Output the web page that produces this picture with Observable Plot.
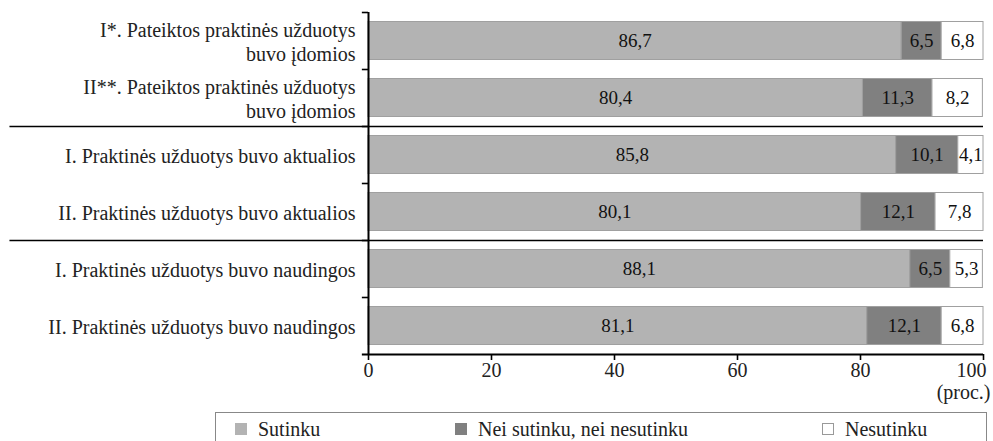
<!DOCTYPE html>
<html>
<head>
<meta charset="utf-8">
<script src="https://cdn.jsdelivr.net/npm/d3@7"></script>
<script src="https://cdn.jsdelivr.net/npm/@observablehq/plot@0.6"></script>
<style>
  body { margin: 0; background: #fff; font-family: "Liberation Serif", serif; }
  #legend { position: relative; margin-left: 215px; width: 772px; height: 40px; border: 1px solid #888; border-bottom: none; box-sizing: border-box; margin-top: 7px; font-size: 20px; color: #222; }
  .item { position: absolute; top: 5px; display: flex; align-items: center; line-height: 22px; }
  .sw { width: 12px; height: 12px; margin-right: 11px; box-sizing: border-box; }
</style>
</head>
<body>
<div id="chart"></div>
<div id="legend"></div>
<script>
const categories = [
  "I*. Pateiktos praktinės užduotys\nbuvo įdomios",
  "II**. Pateiktos praktinės užduotys\nbuvo įdomios",
  "I. Praktinės užduotys buvo aktualios",
  "II. Praktinės užduotys buvo aktualios",
  "I. Praktinės užduotys buvo naudingos",
  "II. Praktinės užduotys buvo naudingos"
];
const seriesNames = ["Sutinku", "Nei sutinku, nei nesutinku", "Nesutinku"];
const agree = [86.7, 80.4, 85.8, 80.1, 88.1, 81.1];
const neutral = [6.5, 11.3, 10.1, 12.1, 6.5, 12.1];
const disagree = [6.8, 8.2, 4.1, 7.8, 5.3, 6.8];
const xTicks = [0, 20, 40, 60, 80, 100];
const xUnit = "(proc.)";
const separatorsBefore = [categories[2], categories[4]];
const colors = ["#b3b3b3", "#808080", "#ffffff"];

const values = [agree, neutral, disagree];
const data = [];
categories.forEach((c, i) => {
  seriesNames.forEach((s, j) => data.push({cat: c, series: s, value: values[j][i]}));
});
const fmt = v => d3.format(".1f")(v).replace(".", ",");

const W = 993, H = 405, mT = 12, mB = 51, mL = 368, mR = 10;
const step = (H - mT - mB) / categories.length;
const halfStep = step / 2;
const lastCat = categories[categories.length - 1];
const atBottom = () => lastCat;

const plot = Plot.plot({
  width: W,
  height: H,
  marginTop: mT,
  marginBottom: mB,
  marginLeft: mL,
  marginRight: mR,
  style: {fontFamily: "Liberation Serif, serif", fontSize: "20px", color: "#222", background: "#fff", overflow: "visible"},
  x: {domain: [0, 100], axis: null},
  y: {domain: categories, padding: 0},
  color: {domain: seriesNames, range: colors},
  marks: [
    Plot.barX(data, Plot.stackX({
      x: "value", y: "cat", fill: "series", order: seriesNames,
      stroke: "#a0a0a0", strokeWidth: 1, insetTop: 9.5, insetBottom: 9.5
    })),
    Plot.text(data, Plot.stackX({
      x: "value", y: "cat", z: "series", order: seriesNames,
      text: d => fmt(d.value), fontSize: 19, fill: "#111"
    })),
    // separators between groups
    Plot.ruleY(separatorsBefore, {y: d => d, x1: () => -58.3, x2: () => 100, dy: -halfStep, stroke: "#000", strokeWidth: 1.6, clip: false}),
    // small ticks at band boundaries on y axis
    Plot.ruleY(categories, {y: d => d, x1: () => -1, x2: () => 0, dy: -halfStep, stroke: "#000", strokeWidth: 1.6}),
    Plot.axisY({tickSize: 0, tickPadding: 13, fontSize: 20, lineHeight: 1.2, label: null, fill: "#222"}),
    // x axis
    Plot.ruleY([lastCat], {y: d => d, x1: () => -1, x2: () => 100, dy: halfStep, stroke: "#000", strokeWidth: 2}),
    Plot.tickX(xTicks, {x: d => d, y: atBottom, dy: step, stroke: "#000", strokeWidth: 1.6, insetBottom: step - 6}),
    Plot.text(xTicks.filter(d => d < 100), {x: d => d, y: atBottom, dy: halfStep + 16, text: d => String(d), fontSize: 20, fill: "#222"}),
    Plot.text(xTicks.filter(d => d === 100), {x: d => d, y: atBottom, dy: halfStep + 16, dx: 3, textAnchor: "end", text: d => String(d), fontSize: 20, fill: "#222"}),
    Plot.text([xUnit], {x: () => 100, y: atBottom, dy: halfStep + 38, dx: 7, textAnchor: "end", text: d => d, fontSize: 20, fill: "#222"}),
    Plot.ruleX([0], {stroke: "#000", strokeWidth: 2})
  ]
});
document.getElementById("chart").appendChild(plot);

const legend = document.getElementById("legend");
const lefts = [19, 239, 606];
seriesNames.forEach((s, i) => {
  const it = document.createElement("div");
  it.className = "item";
  it.style.left = lefts[i] + "px";
  const sw = document.createElement("div");
  sw.className = "sw";
  sw.style.background = colors[i];
  sw.style.border = "1px solid " + (i === 2 ? "#999" : colors[i]);
  const t = document.createElement("span");
  t.textContent = s;
  it.appendChild(sw); it.appendChild(t);
  legend.appendChild(it);
});
</script>
</body>
</html>
